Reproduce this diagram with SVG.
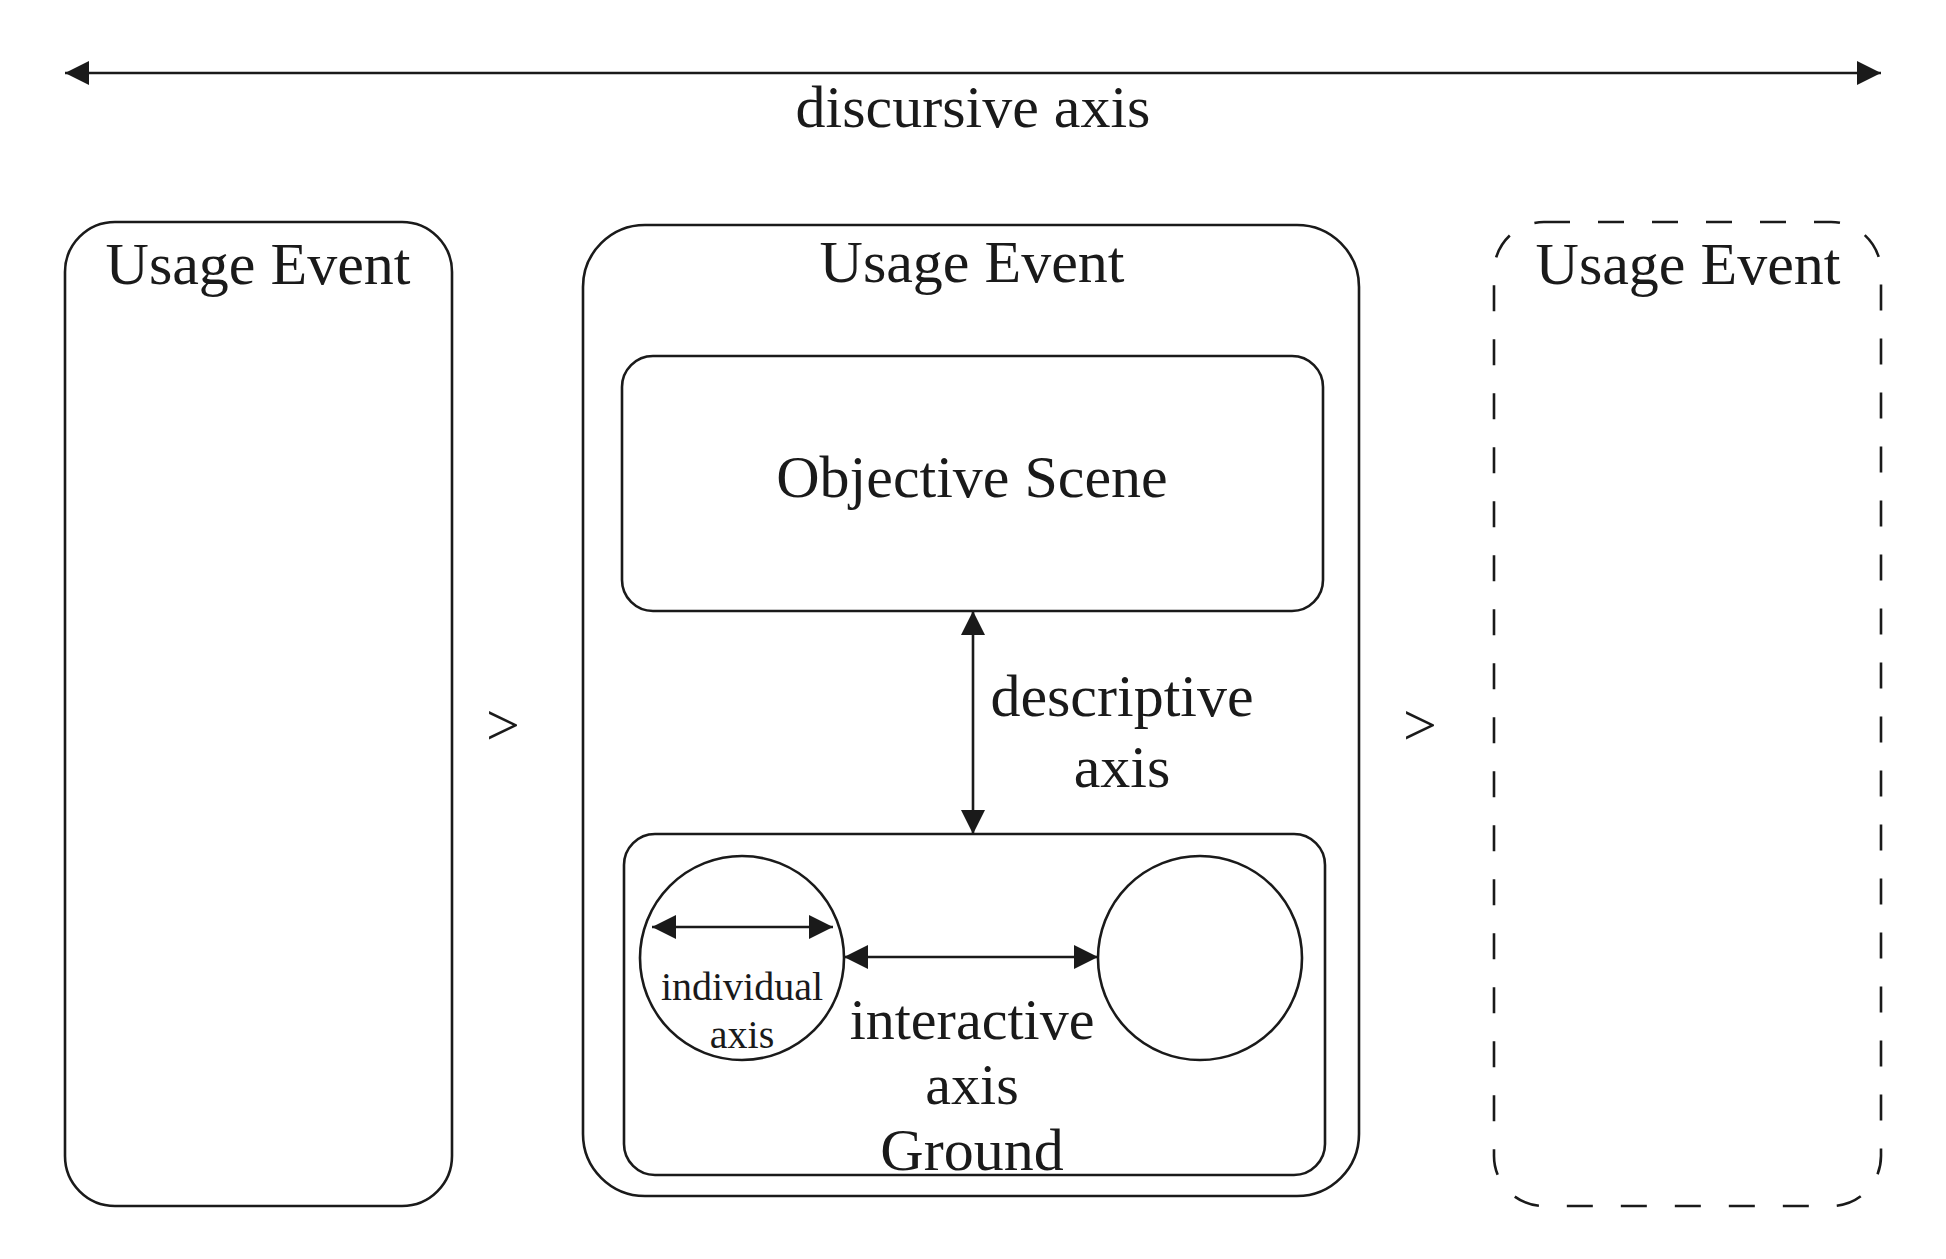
<svg xmlns="http://www.w3.org/2000/svg" width="1946" height="1259" viewBox="0 0 1946 1259">
<defs>
<style>
.box{fill:none;stroke:#1a1a1a;stroke-width:2.6}
.dash{fill:none;stroke:#1a1a1a;stroke-width:2.6;stroke-dasharray:26 28}
.ln{fill:none;stroke:#1a1a1a;stroke-width:2.6}
.t{font-family:"Liberation Serif","Times New Roman",serif;fill:#1a1a1a;text-anchor:middle}
.big{font-size:60px}
.mid{font-size:58px}
.small{font-size:40px}
</style>
<marker id="ah" viewBox="0 0 24 24" markerWidth="24" markerHeight="24" refX="24" refY="12" orient="auto-start-reverse" markerUnits="userSpaceOnUse">
<path d="M0,0 L24,12 L0,24 z" fill="#1a1a1a"/>
</marker>
</defs>
<rect width="1946" height="1259" fill="#fff"/>

<g id="connectors">
<line class="ln" x1="65" y1="73" x2="1881" y2="73" marker-start="url(#ah)" marker-end="url(#ah)"/>
<line class="ln" x1="973" y1="611" x2="973" y2="834" marker-start="url(#ah)" marker-end="url(#ah)"/>
<line class="ln" x1="844" y1="957" x2="1098" y2="957" marker-start="url(#ah)" marker-end="url(#ah)"/>
<line class="ln" x1="652" y1="927" x2="833" y2="927" marker-start="url(#ah)" marker-end="url(#ah)"/>
</g>

<g id="discursive-label">
<text class="t big" x="973" y="127">discursive axis</text>
</g>

<g id="usage-event-left">
<rect class="box" x="65" y="222" width="387" height="984" rx="50" ry="50"/>
<text class="t big" x="258" y="284">Usage Event</text>
</g>

<g id="gt-left">
<text class="t big" x="503" y="745">&gt;</text>
</g>

<g id="usage-event-middle">
<rect class="box" x="583" y="225" width="776" height="971" rx="62" ry="62"/>
<text class="t big" x="972" y="282">Usage Event</text>
</g>

<g id="objective-scene">
<rect class="box" x="622" y="356" width="701" height="255" rx="31" ry="31"/>
<text class="t big" x="972" y="497">Objective Scene</text>
</g>

<g id="descriptive-label">
<text class="t big" x="1122" y="716">descriptive</text>
<text class="t big" x="1122" y="787">axis</text>
</g>

<g id="ground">
<rect class="box" x="624" y="834" width="701" height="341" rx="31" ry="31"/>
<text class="t mid" x="972" y="1039">interactive</text>
<text class="t mid" x="972" y="1104">axis</text>
<text class="t big" x="972" y="1170">Ground</text>
</g>

<g id="individual">
<circle class="box" cx="742" cy="958" r="102"/>
<text class="t small" x="742" y="1000">individual</text>
<text class="t small" x="742" y="1048">axis</text>
</g>

<g id="other-individual">
<circle class="box" cx="1200" cy="958" r="102"/>
</g>

<g id="gt-right">
<text class="t big" x="1420" y="745">&gt;</text>
</g>

<g id="usage-event-right">
<rect class="dash" x="1494" y="222" width="387" height="984" rx="50" ry="50"/>
<text class="t big" x="1688" y="284">Usage Event</text>
</g>
</svg>
